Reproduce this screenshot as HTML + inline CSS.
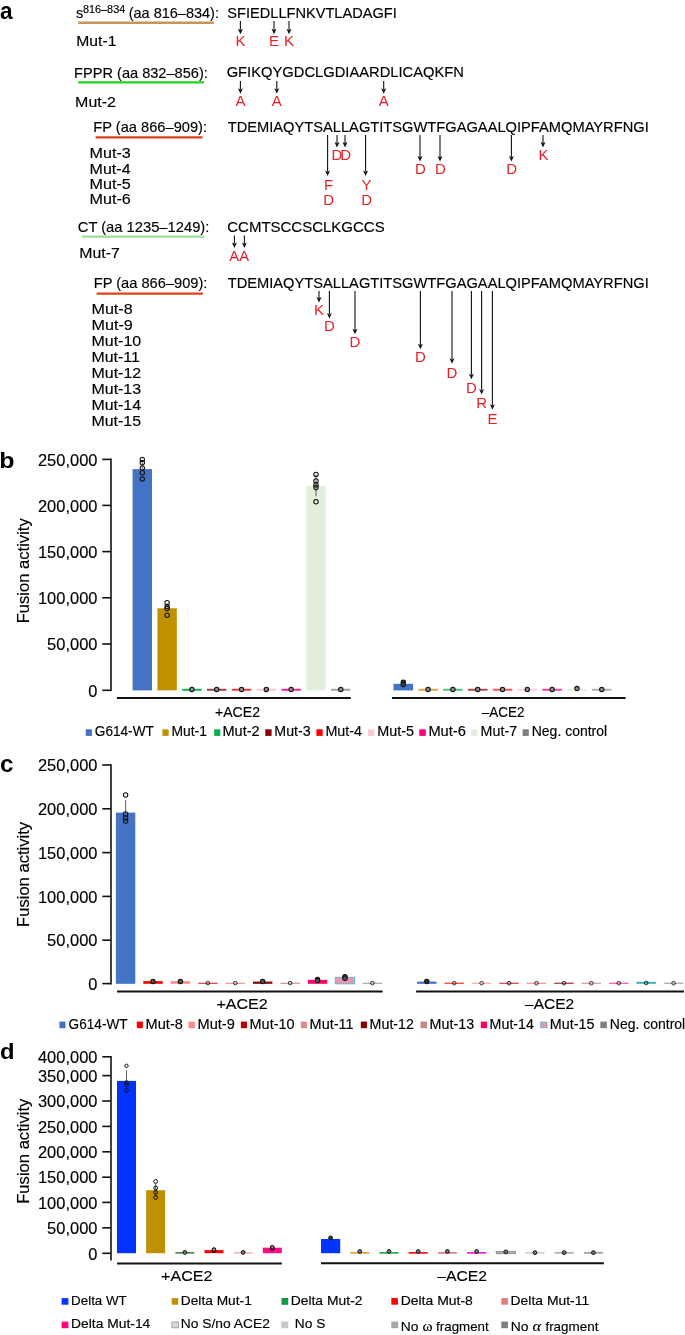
<!DOCTYPE html>
<html><head><meta charset="utf-8"><title>Figure</title>
<style>
html,body{margin:0;padding:0;background:#fff;}
body{width:685px;height:1335px;overflow:hidden;}
svg{display:block;font-family:"Liberation Sans", sans-serif;will-change:transform;}
</style></head>
<body>
<svg width="685" height="1335" viewBox="0 0 685 1335">
<rect x="0" y="0" width="685" height="1335" fill="#fff"/>
<text x="0.04" y="19.30" font-size="23" fill="#000" font-weight="bold" textLength="12.60" lengthAdjust="spacingAndGlyphs">a</text>
<text x="76.10" y="18.20" font-size="15" fill="#000" font-weight="normal" stroke="#000" stroke-width="0.15" textLength="7.22" lengthAdjust="spacingAndGlyphs">s</text>
<text x="83.03" y="12.80" font-size="10.5" fill="#000" font-weight="normal" stroke="#000" stroke-width="0.15" textLength="42.18" lengthAdjust="spacingAndGlyphs">816–834</text>
<text x="128.70" y="18.20" font-size="15" fill="#000" font-weight="normal" stroke="#000" stroke-width="0.15" textLength="90.22" lengthAdjust="spacingAndGlyphs">(aa 816–834):</text>
<line x1="78.20" y1="22.80" x2="213.90" y2="22.80" stroke="#c4965a" stroke-width="2.4"/>
<text x="227.34" y="17.60" font-size="15" fill="#000" font-weight="normal" stroke="#000" stroke-width="0.15" textLength="169.40" lengthAdjust="spacingAndGlyphs">SFIEDLLFNKVTLADAGFI</text>
<line x1="240.40" y1="21.10" x2="240.40" y2="29.70" stroke="#111" stroke-width="1.1"/>
<path d="M240.40,34.20 L237.90,28.70 L240.40,30.00 L242.90,28.70 Z" fill="#111"/>
<text x="240.4" y="46.0" font-size="15" fill="#ec1c24" text-anchor="middle" font-weight="normal">K</text>
<line x1="274.00" y1="21.10" x2="274.00" y2="29.70" stroke="#111" stroke-width="1.1"/>
<path d="M274.00,34.20 L271.50,28.70 L274.00,30.00 L276.50,28.70 Z" fill="#111"/>
<text x="274.0" y="46.0" font-size="15" fill="#ec1c24" text-anchor="middle" font-weight="normal">E</text>
<line x1="289.00" y1="21.10" x2="289.00" y2="29.70" stroke="#111" stroke-width="1.1"/>
<path d="M289.00,34.20 L286.50,28.70 L289.00,30.00 L291.50,28.70 Z" fill="#111"/>
<text x="289.0" y="46.0" font-size="15" fill="#ec1c24" text-anchor="middle" font-weight="normal">K</text>
<text x="76.32" y="46.40" font-size="15" fill="#000" font-weight="normal" stroke="#000" stroke-width="0.15" textLength="40.06" lengthAdjust="spacingAndGlyphs">Mut-1</text>
<text x="74.10" y="78.00" font-size="15" fill="#000" font-weight="normal" stroke="#000" stroke-width="0.15" textLength="133.72" lengthAdjust="spacingAndGlyphs">FPPR (aa 832–856):</text>
<line x1="78.30" y1="82.40" x2="204.00" y2="82.40" stroke="#1ed41e" stroke-width="2.4"/>
<text x="226.66" y="77.40" font-size="15" fill="#000" font-weight="normal" stroke="#000" stroke-width="0.15" textLength="237.33" lengthAdjust="spacingAndGlyphs">GFIKQYGDCLGDIAARDLICAQKFN</text>
<line x1="240.40" y1="80.90" x2="240.40" y2="89.20" stroke="#111" stroke-width="1.1"/>
<path d="M240.40,93.70 L237.90,88.20 L240.40,89.50 L242.90,88.20 Z" fill="#111"/>
<text x="240.4" y="106.4" font-size="15" fill="#ec1c24" text-anchor="middle" font-weight="normal">A</text>
<line x1="276.80" y1="80.90" x2="276.80" y2="89.20" stroke="#111" stroke-width="1.1"/>
<path d="M276.80,93.70 L274.30,88.20 L276.80,89.50 L279.30,88.20 Z" fill="#111"/>
<text x="276.8" y="106.4" font-size="15" fill="#ec1c24" text-anchor="middle" font-weight="normal">A</text>
<line x1="383.70" y1="80.90" x2="383.70" y2="89.20" stroke="#111" stroke-width="1.1"/>
<path d="M383.70,93.70 L381.20,88.20 L383.70,89.50 L386.20,88.20 Z" fill="#111"/>
<text x="383.7" y="106.4" font-size="15" fill="#ec1c24" text-anchor="middle" font-weight="normal">A</text>
<text x="75.09" y="106.60" font-size="15" fill="#000" font-weight="normal" stroke="#000" stroke-width="0.15" textLength="40.81" lengthAdjust="spacingAndGlyphs">Mut-2</text>
<text x="93.30" y="131.90" font-size="15" fill="#000" font-weight="normal" stroke="#000" stroke-width="0.15" textLength="113.73" lengthAdjust="spacingAndGlyphs">FP (aa 866–909):</text>
<line x1="95.60" y1="137.40" x2="202.60" y2="137.40" stroke="#e0401a" stroke-width="2.4"/>
<text x="227.68" y="131.60" font-size="15" fill="#000" font-weight="normal" stroke="#000" stroke-width="0.15" textLength="421.07" lengthAdjust="spacingAndGlyphs">TDEMIAQYTSALLAGTITSGWTFGAGAALQIPFAMQMAYRFNGI</text>
<text x="89.58" y="158.40" font-size="15" fill="#000" font-weight="normal" stroke="#000" stroke-width="0.15" textLength="41.24" lengthAdjust="spacingAndGlyphs">Mut-3</text>
<text x="89.59" y="173.60" font-size="15" fill="#000" font-weight="normal" stroke="#000" stroke-width="0.15" textLength="40.98" lengthAdjust="spacingAndGlyphs">Mut-4</text>
<text x="89.58" y="188.80" font-size="15" fill="#000" font-weight="normal" stroke="#000" stroke-width="0.15" textLength="41.20" lengthAdjust="spacingAndGlyphs">Mut-5</text>
<text x="89.58" y="204.00" font-size="15" fill="#000" font-weight="normal" stroke="#000" stroke-width="0.15" textLength="41.24" lengthAdjust="spacingAndGlyphs">Mut-6</text>
<line x1="327.60" y1="135.00" x2="327.60" y2="171.50" stroke="#111" stroke-width="1.1"/>
<path d="M327.60,176.00 L325.10,170.50 L327.60,171.80 L330.10,170.50 Z" fill="#111"/>
<line x1="337.00" y1="135.00" x2="337.00" y2="143.00" stroke="#111" stroke-width="1.1"/>
<path d="M337.00,147.50 L334.50,142.00 L337.00,143.30 L339.50,142.00 Z" fill="#111"/>
<line x1="345.00" y1="135.00" x2="345.00" y2="143.00" stroke="#111" stroke-width="1.1"/>
<path d="M345.00,147.50 L342.50,142.00 L345.00,143.30 L347.50,142.00 Z" fill="#111"/>
<line x1="365.60" y1="135.00" x2="365.60" y2="171.50" stroke="#111" stroke-width="1.1"/>
<path d="M365.60,176.00 L363.10,170.50 L365.60,171.80 L368.10,170.50 Z" fill="#111"/>
<line x1="420.00" y1="135.00" x2="420.00" y2="157.00" stroke="#111" stroke-width="1.1"/>
<path d="M420.00,161.50 L417.50,156.00 L420.00,157.30 L422.50,156.00 Z" fill="#111"/>
<line x1="440.00" y1="135.00" x2="440.00" y2="157.00" stroke="#111" stroke-width="1.1"/>
<path d="M440.00,161.50 L437.50,156.00 L440.00,157.30 L442.50,156.00 Z" fill="#111"/>
<line x1="511.40" y1="135.00" x2="511.40" y2="157.00" stroke="#111" stroke-width="1.1"/>
<path d="M511.40,161.50 L508.90,156.00 L511.40,157.30 L513.90,156.00 Z" fill="#111"/>
<line x1="543.00" y1="135.00" x2="543.00" y2="143.00" stroke="#111" stroke-width="1.1"/>
<path d="M543.00,147.50 L540.50,142.00 L543.00,143.30 L545.50,142.00 Z" fill="#111"/>
<text x="336.8" y="160.1" font-size="15" fill="#ec1c24" text-anchor="middle" font-weight="normal">D</text>
<text x="345.6" y="160.1" font-size="15" fill="#ec1c24" text-anchor="middle" font-weight="normal">D</text>
<text x="328.6" y="189.5" font-size="15" fill="#ec1c24" text-anchor="middle" font-weight="normal">F</text>
<text x="328.6" y="204.5" font-size="15" fill="#ec1c24" text-anchor="middle" font-weight="normal">D</text>
<text x="366.6" y="189.5" font-size="15" fill="#ec1c24" text-anchor="middle" font-weight="normal">Y</text>
<text x="366.6" y="204.5" font-size="15" fill="#ec1c24" text-anchor="middle" font-weight="normal">D</text>
<text x="420.4" y="174.1" font-size="15" fill="#ec1c24" text-anchor="middle" font-weight="normal">D</text>
<text x="440.4" y="174.1" font-size="15" fill="#ec1c24" text-anchor="middle" font-weight="normal">D</text>
<text x="511.6" y="174.1" font-size="15" fill="#ec1c24" text-anchor="middle" font-weight="normal">D</text>
<text x="543.4" y="159.7" font-size="15" fill="#ec1c24" text-anchor="middle" font-weight="normal">K</text>
<text x="77.75" y="231.80" font-size="15" fill="#000" font-weight="normal" stroke="#000" stroke-width="0.15" textLength="131.59" lengthAdjust="spacingAndGlyphs">CT (aa 1235–1249):</text>
<line x1="82.00" y1="236.60" x2="204.30" y2="236.60" stroke="#9edc9e" stroke-width="2.4"/>
<text x="227.24" y="231.60" font-size="15" fill="#000" font-weight="normal" stroke="#000" stroke-width="0.15" textLength="157.46" lengthAdjust="spacingAndGlyphs">CCMTSCCSCLKGCCS</text>
<line x1="234.40" y1="235.40" x2="234.40" y2="243.50" stroke="#111" stroke-width="1.1"/>
<path d="M234.40,248.00 L231.90,242.50 L234.40,243.80 L236.90,242.50 Z" fill="#111"/>
<line x1="244.40" y1="235.40" x2="244.40" y2="243.50" stroke="#111" stroke-width="1.1"/>
<path d="M244.40,248.00 L241.90,242.50 L244.40,243.80 L246.90,242.50 Z" fill="#111"/>
<text x="229.37" y="260.60" font-size="15" fill="#ec1c24" font-weight="normal" textLength="19.66" lengthAdjust="spacingAndGlyphs">AA</text>
<text x="79.30" y="257.80" font-size="15" fill="#000" font-weight="normal" stroke="#000" stroke-width="0.15" textLength="40.60" lengthAdjust="spacingAndGlyphs">Mut-7</text>
<text x="93.70" y="288.00" font-size="15" fill="#000" font-weight="normal" stroke="#000" stroke-width="0.15" textLength="113.73" lengthAdjust="spacingAndGlyphs">FP (aa 866–909):</text>
<line x1="96.60" y1="293.60" x2="202.90" y2="293.60" stroke="#e0401a" stroke-width="2.4"/>
<text x="227.68" y="287.80" font-size="15" fill="#000" font-weight="normal" stroke="#000" stroke-width="0.15" textLength="421.07" lengthAdjust="spacingAndGlyphs">TDEMIAQYTSALLAGTITSGWTFGAGAALQIPFAMQMAYRFNGI</text>
<text x="91.48" y="314.00" font-size="15" fill="#000" font-weight="normal" stroke="#000" stroke-width="0.15" textLength="41.22" lengthAdjust="spacingAndGlyphs">Mut-8</text>
<text x="91.48" y="330.00" font-size="15" fill="#000" font-weight="normal" stroke="#000" stroke-width="0.15" textLength="41.29" lengthAdjust="spacingAndGlyphs">Mut-9</text>
<text x="91.49" y="346.00" font-size="15" fill="#000" font-weight="normal" stroke="#000" stroke-width="0.15" textLength="49.74" lengthAdjust="spacingAndGlyphs">Mut-10</text>
<text x="91.50" y="362.00" font-size="15" fill="#000" font-weight="normal" stroke="#000" stroke-width="0.15" textLength="48.28" lengthAdjust="spacingAndGlyphs">Mut-11</text>
<text x="91.49" y="378.00" font-size="15" fill="#000" font-weight="normal" stroke="#000" stroke-width="0.15" textLength="49.71" lengthAdjust="spacingAndGlyphs">Mut-12</text>
<text x="91.49" y="394.00" font-size="15" fill="#000" font-weight="normal" stroke="#000" stroke-width="0.15" textLength="49.61" lengthAdjust="spacingAndGlyphs">Mut-13</text>
<text x="91.49" y="410.00" font-size="15" fill="#000" font-weight="normal" stroke="#000" stroke-width="0.15" textLength="49.57" lengthAdjust="spacingAndGlyphs">Mut-14</text>
<text x="91.49" y="426.00" font-size="15" fill="#000" font-weight="normal" stroke="#000" stroke-width="0.15" textLength="49.58" lengthAdjust="spacingAndGlyphs">Mut-15</text>
<line x1="319.00" y1="291.00" x2="319.00" y2="298.00" stroke="#111" stroke-width="1.1"/>
<path d="M319.00,302.50 L316.50,297.00 L319.00,298.30 L321.50,297.00 Z" fill="#111"/>
<text x="319.0" y="314.5" font-size="15" fill="#ec1c24" text-anchor="middle" font-weight="normal">K</text>
<line x1="329.40" y1="291.00" x2="329.40" y2="314.10" stroke="#111" stroke-width="1.1"/>
<path d="M329.40,318.60 L326.90,313.10 L329.40,314.40 L331.90,313.10 Z" fill="#111"/>
<text x="329.4" y="331.1" font-size="15" fill="#ec1c24" text-anchor="middle" font-weight="normal">D</text>
<line x1="355.00" y1="291.00" x2="355.00" y2="329.70" stroke="#111" stroke-width="1.1"/>
<path d="M355.00,334.20 L352.50,328.70 L355.00,330.00 L357.50,328.70 Z" fill="#111"/>
<text x="355.0" y="346.9" font-size="15" fill="#ec1c24" text-anchor="middle" font-weight="normal">D</text>
<line x1="420.40" y1="291.00" x2="420.40" y2="344.70" stroke="#111" stroke-width="1.1"/>
<path d="M420.40,349.20 L417.90,343.70 L420.40,345.00 L422.90,343.70 Z" fill="#111"/>
<text x="420.4" y="362.1" font-size="15" fill="#ec1c24" text-anchor="middle" font-weight="normal">D</text>
<line x1="452.00" y1="291.00" x2="452.00" y2="359.30" stroke="#111" stroke-width="1.1"/>
<path d="M452.00,363.80 L449.50,358.30 L452.00,359.60 L454.50,358.30 Z" fill="#111"/>
<text x="452.0" y="377.5" font-size="15" fill="#ec1c24" text-anchor="middle" font-weight="normal">D</text>
<line x1="471.40" y1="291.00" x2="471.40" y2="374.70" stroke="#111" stroke-width="1.1"/>
<path d="M471.40,379.20 L468.90,373.70 L471.40,375.00 L473.90,373.70 Z" fill="#111"/>
<text x="471.4" y="392.5" font-size="15" fill="#ec1c24" text-anchor="middle" font-weight="normal">D</text>
<line x1="481.60" y1="291.00" x2="481.60" y2="390.10" stroke="#111" stroke-width="1.1"/>
<path d="M481.60,394.60 L479.10,389.10 L481.60,390.40 L484.10,389.10 Z" fill="#111"/>
<text x="481.6" y="408.1" font-size="15" fill="#ec1c24" text-anchor="middle" font-weight="normal">R</text>
<line x1="492.40" y1="291.00" x2="492.40" y2="405.30" stroke="#111" stroke-width="1.1"/>
<path d="M492.40,409.80 L489.90,404.30 L492.40,405.60 L494.90,404.30 Z" fill="#111"/>
<text x="492.4" y="423.5" font-size="15" fill="#ec1c24" text-anchor="middle" font-weight="normal">E</text>
<text x="-0.65" y="468.00" font-size="22" fill="#000" font-weight="bold" textLength="15.27" lengthAdjust="spacingAndGlyphs">b</text>
<line x1="111.00" y1="458.60" x2="111.00" y2="691.10" stroke="#111" stroke-width="1.6"/>
<line x1="102.30" y1="459.40" x2="111.00" y2="459.40" stroke="#111" stroke-width="1.6"/>
<text x="37.98" y="465.60" font-size="16" fill="#000" font-weight="normal" stroke="#000" stroke-width="0.15" textLength="59.46" lengthAdjust="spacingAndGlyphs">250,000</text>
<line x1="102.30" y1="505.40" x2="111.00" y2="505.40" stroke="#111" stroke-width="1.6"/>
<text x="37.98" y="511.60" font-size="16" fill="#000" font-weight="normal" stroke="#000" stroke-width="0.15" textLength="59.46" lengthAdjust="spacingAndGlyphs">200,000</text>
<line x1="102.30" y1="551.60" x2="111.00" y2="551.60" stroke="#111" stroke-width="1.6"/>
<text x="37.98" y="557.80" font-size="16" fill="#000" font-weight="normal" stroke="#000" stroke-width="0.15" textLength="59.46" lengthAdjust="spacingAndGlyphs">150,000</text>
<line x1="102.30" y1="597.80" x2="111.00" y2="597.80" stroke="#111" stroke-width="1.6"/>
<text x="37.98" y="604.00" font-size="16" fill="#000" font-weight="normal" stroke="#000" stroke-width="0.15" textLength="59.46" lengthAdjust="spacingAndGlyphs">100,000</text>
<line x1="102.30" y1="644.00" x2="111.00" y2="644.00" stroke="#111" stroke-width="1.6"/>
<text x="47.14" y="650.20" font-size="16" fill="#000" font-weight="normal" stroke="#000" stroke-width="0.15" textLength="50.31" lengthAdjust="spacingAndGlyphs">50,000</text>
<line x1="102.30" y1="690.30" x2="111.00" y2="690.30" stroke="#111" stroke-width="1.6"/>
<text x="88.30" y="696.50" font-size="16" fill="#000" font-weight="normal" stroke="#000" stroke-width="0.15" textLength="9.15" lengthAdjust="spacingAndGlyphs">0</text>
<text transform="translate(28.9,623.36) rotate(-90)" font-size="16.5" fill="#000" stroke="#000" stroke-width="0.15" textLength="105.10" lengthAdjust="spacingAndGlyphs">Fusion activity</text>
<rect x="132.60" y="469.10" width="19.40" height="221.30" fill="#4472c4"/>
<rect x="157.41" y="608.30" width="19.40" height="82.10" fill="#bf9000"/>
<rect x="182.22" y="688.80" width="19.40" height="1.90" fill="#00b050"/>
<rect x="207.03" y="688.80" width="19.40" height="1.90" fill="#a03838"/>
<rect x="231.84" y="688.80" width="19.40" height="1.90" fill="#ff2a2a"/>
<rect x="256.65" y="688.80" width="19.40" height="1.90" fill="#ffc7d4"/>
<rect x="281.46" y="688.80" width="19.40" height="1.90" fill="#ff1a8c"/>
<rect x="306.27" y="485.90" width="19.40" height="204.50" fill="#e2efda"/>
<rect x="331.08" y="688.80" width="19.40" height="1.90" fill="#a0a0a0"/>
<line x1="142.30" y1="460.50" x2="142.30" y2="469.50" stroke="#333" stroke-width="0.8"/>
<circle cx="142.30" cy="459.40" r="2.2" fill="none" stroke="#111" stroke-width="1.05"/>
<circle cx="142.30" cy="462.70" r="2.2" fill="none" stroke="#111" stroke-width="1.05"/>
<circle cx="142.30" cy="468.00" r="2.2" fill="none" stroke="#111" stroke-width="1.05"/>
<circle cx="142.30" cy="472.80" r="2.2" fill="none" stroke="#111" stroke-width="1.05"/>
<circle cx="142.30" cy="478.90" r="2.2" fill="none" stroke="#111" stroke-width="1.05"/>
<line x1="167.11" y1="603.50" x2="167.11" y2="609.00" stroke="#333" stroke-width="0.8"/>
<circle cx="167.11" cy="602.70" r="2.2" fill="none" stroke="#111" stroke-width="1.05"/>
<circle cx="167.11" cy="606.60" r="2.2" fill="none" stroke="#111" stroke-width="1.05"/>
<circle cx="167.11" cy="608.40" r="2.2" fill="none" stroke="#111" stroke-width="1.05"/>
<circle cx="167.11" cy="615.20" r="2.2" fill="none" stroke="#111" stroke-width="1.05"/>
<circle cx="191.92" cy="689.40" r="2.2" fill="#8a8a8a" stroke="#111" stroke-width="1.05"/>
<circle cx="216.73" cy="689.40" r="2.2" fill="#8a8a8a" stroke="#111" stroke-width="1.05"/>
<circle cx="241.54" cy="689.40" r="2.2" fill="#8a8a8a" stroke="#111" stroke-width="1.05"/>
<circle cx="266.35" cy="689.40" r="2.2" fill="#8a8a8a" stroke="#111" stroke-width="1.05"/>
<circle cx="291.16" cy="689.40" r="2.2" fill="#8a8a8a" stroke="#111" stroke-width="1.05"/>
<line x1="315.97" y1="474.50" x2="315.97" y2="496.30" stroke="#333" stroke-width="0.8"/>
<circle cx="315.97" cy="474.40" r="2.2" fill="none" stroke="#111" stroke-width="1.05"/>
<circle cx="315.97" cy="480.90" r="2.2" fill="none" stroke="#111" stroke-width="1.05"/>
<circle cx="315.97" cy="485.00" r="2.2" fill="none" stroke="#111" stroke-width="1.05"/>
<circle cx="315.97" cy="487.50" r="2.2" fill="none" stroke="#111" stroke-width="1.05"/>
<circle cx="315.97" cy="501.80" r="2.2" fill="none" stroke="#111" stroke-width="1.05"/>
<circle cx="340.78" cy="689.40" r="2.2" fill="#8a8a8a" stroke="#111" stroke-width="1.05"/>
<rect x="393.50" y="683.80" width="19.60" height="6.60" fill="#4472c4"/>
<rect x="418.31" y="688.80" width="19.60" height="1.90" fill="#d9ac3a"/>
<rect x="443.12" y="688.80" width="19.60" height="1.90" fill="#3cc878"/>
<rect x="467.93" y="688.80" width="19.60" height="1.90" fill="#a84848"/>
<rect x="492.74" y="688.80" width="19.60" height="1.90" fill="#ff5050"/>
<rect x="517.55" y="688.80" width="19.60" height="1.90" fill="#ffd0dc"/>
<rect x="542.36" y="688.80" width="19.60" height="1.90" fill="#ff3399"/>
<rect x="567.17" y="688.80" width="19.60" height="1.90" fill="#e2efda"/>
<rect x="591.98" y="688.80" width="19.60" height="1.90" fill="#b0b0b0"/>
<line x1="403.30" y1="681.00" x2="403.30" y2="686.00" stroke="#333" stroke-width="0.8"/>
<circle cx="403.30" cy="682.30" r="2.2" fill="#444" stroke="#111" stroke-width="1.05"/>
<circle cx="403.30" cy="684.60" r="2.2" fill="#444" stroke="#111" stroke-width="1.05"/>
<circle cx="428.11" cy="689.40" r="2.2" fill="#8a8a8a" stroke="#111" stroke-width="1.05"/>
<circle cx="452.92" cy="689.40" r="2.2" fill="#8a8a8a" stroke="#111" stroke-width="1.05"/>
<circle cx="477.73" cy="689.40" r="2.2" fill="#8a8a8a" stroke="#111" stroke-width="1.05"/>
<circle cx="502.54" cy="689.40" r="2.2" fill="#8a8a8a" stroke="#111" stroke-width="1.05"/>
<circle cx="527.35" cy="689.40" r="2.2" fill="#8a8a8a" stroke="#111" stroke-width="1.05"/>
<circle cx="552.16" cy="689.40" r="2.2" fill="#8a8a8a" stroke="#111" stroke-width="1.05"/>
<circle cx="576.97" cy="688.60" r="2.2" fill="#8a8a8a" stroke="#111" stroke-width="1.05"/>
<circle cx="601.78" cy="689.40" r="2.2" fill="#8a8a8a" stroke="#111" stroke-width="1.05"/>
<line x1="116.90" y1="698.00" x2="350.80" y2="698.00" stroke="#111" stroke-width="2.0"/>
<line x1="392.00" y1="698.00" x2="625.60" y2="698.00" stroke="#111" stroke-width="2.0"/>
<text x="215.01" y="716.60" font-size="14.4" fill="#000" font-weight="normal" stroke="#000" stroke-width="0.15" textLength="45.00" lengthAdjust="spacingAndGlyphs">+ACE2</text>
<text x="481.80" y="716.50" font-size="14.4" fill="#000" font-weight="normal" stroke="#000" stroke-width="0.15" textLength="42.68" lengthAdjust="spacingAndGlyphs">–ACE2</text>
<rect x="85.75" y="729.30" width="6.15" height="6.60" fill="#4472c4"/>
<text x="94.82" y="736.10" font-size="13.8" fill="#000" font-weight="normal" stroke="#000" stroke-width="0.15" textLength="58.99" lengthAdjust="spacingAndGlyphs">G614-WT</text>
<rect x="162.40" y="729.30" width="6.30" height="6.60" fill="#bf9000"/>
<text x="171.46" y="736.10" font-size="13.8" fill="#000" font-weight="normal" stroke="#000" stroke-width="0.15" textLength="35.42" lengthAdjust="spacingAndGlyphs">Mut-1</text>
<rect x="214.20" y="729.30" width="6.10" height="6.60" fill="#00b050"/>
<text x="222.51" y="736.10" font-size="13.8" fill="#000" font-weight="normal" stroke="#000" stroke-width="0.15" textLength="37.22" lengthAdjust="spacingAndGlyphs">Mut-2</text>
<rect x="265.30" y="729.30" width="6.30" height="6.60" fill="#8b0000"/>
<text x="274.33" y="736.10" font-size="13.8" fill="#000" font-weight="normal" stroke="#000" stroke-width="0.15" textLength="36.40" lengthAdjust="spacingAndGlyphs">Mut-3</text>
<rect x="316.40" y="729.30" width="6.30" height="6.60" fill="#ff0000"/>
<text x="325.42" y="736.10" font-size="13.8" fill="#000" font-weight="normal" stroke="#000" stroke-width="0.15" textLength="36.70" lengthAdjust="spacingAndGlyphs">Mut-4</text>
<rect x="368.00" y="729.30" width="6.40" height="6.60" fill="#ffc7ce"/>
<text x="377.32" y="736.10" font-size="13.8" fill="#000" font-weight="normal" stroke="#000" stroke-width="0.15" textLength="36.79" lengthAdjust="spacingAndGlyphs">Mut-5</text>
<rect x="419.30" y="729.30" width="6.50" height="6.60" fill="#ff0080"/>
<text x="428.40" y="736.10" font-size="13.8" fill="#000" font-weight="normal" stroke="#000" stroke-width="0.15" textLength="37.55" lengthAdjust="spacingAndGlyphs">Mut-6</text>
<rect x="471.20" y="729.30" width="6.20" height="6.60" fill="#e2efda"/>
<text x="480.63" y="736.10" font-size="13.8" fill="#000" font-weight="normal" stroke="#000" stroke-width="0.15" textLength="36.49" lengthAdjust="spacingAndGlyphs">Mut-7</text>
<rect x="522.60" y="729.30" width="6.20" height="6.60" fill="#808080"/>
<text x="531.75" y="736.10" font-size="13.8" fill="#000" font-weight="normal" stroke="#000" stroke-width="0.15" textLength="75.39" lengthAdjust="spacingAndGlyphs">Neg. control</text>
<text x="-0.04" y="771.90" font-size="23" fill="#000" font-weight="bold" textLength="13.45" lengthAdjust="spacingAndGlyphs">c</text>
<line x1="111.00" y1="764.20" x2="111.00" y2="984.40" stroke="#111" stroke-width="1.6"/>
<line x1="102.30" y1="765.00" x2="111.00" y2="765.00" stroke="#111" stroke-width="1.6"/>
<text x="37.98" y="771.20" font-size="16" fill="#000" font-weight="normal" stroke="#000" stroke-width="0.15" textLength="59.46" lengthAdjust="spacingAndGlyphs">250,000</text>
<line x1="102.30" y1="808.80" x2="111.00" y2="808.80" stroke="#111" stroke-width="1.6"/>
<text x="37.98" y="815.00" font-size="16" fill="#000" font-weight="normal" stroke="#000" stroke-width="0.15" textLength="59.46" lengthAdjust="spacingAndGlyphs">200,000</text>
<line x1="102.30" y1="852.60" x2="111.00" y2="852.60" stroke="#111" stroke-width="1.6"/>
<text x="37.98" y="858.80" font-size="16" fill="#000" font-weight="normal" stroke="#000" stroke-width="0.15" textLength="59.46" lengthAdjust="spacingAndGlyphs">150,000</text>
<line x1="102.30" y1="896.40" x2="111.00" y2="896.40" stroke="#111" stroke-width="1.6"/>
<text x="37.98" y="902.60" font-size="16" fill="#000" font-weight="normal" stroke="#000" stroke-width="0.15" textLength="59.46" lengthAdjust="spacingAndGlyphs">100,000</text>
<line x1="102.30" y1="940.20" x2="111.00" y2="940.20" stroke="#111" stroke-width="1.6"/>
<text x="47.14" y="946.40" font-size="16" fill="#000" font-weight="normal" stroke="#000" stroke-width="0.15" textLength="50.31" lengthAdjust="spacingAndGlyphs">50,000</text>
<line x1="102.30" y1="983.60" x2="111.00" y2="983.60" stroke="#111" stroke-width="1.6"/>
<text x="88.30" y="989.80" font-size="16" fill="#000" font-weight="normal" stroke="#000" stroke-width="0.15" textLength="9.15" lengthAdjust="spacingAndGlyphs">0</text>
<text transform="translate(28.9,926.96) rotate(-90)" font-size="16.5" fill="#000" stroke="#000" stroke-width="0.15" textLength="105.10" lengthAdjust="spacingAndGlyphs">Fusion activity</text>
<rect x="115.90" y="812.60" width="19.40" height="171.20" fill="#4472c4"/>
<rect x="143.32" y="981.10" width="19.40" height="2.70" fill="#ff0000"/>
<rect x="170.74" y="981.10" width="19.40" height="2.70" fill="#ff8c8c"/>
<rect x="198.16" y="982.70" width="19.40" height="1.10" fill="#c83030"/>
<rect x="225.58" y="982.70" width="19.40" height="1.10" fill="#e08a8a"/>
<rect x="253.00" y="981.60" width="19.40" height="2.20" fill="#8b0000"/>
<rect x="280.42" y="982.70" width="19.40" height="1.10" fill="#cc8888"/>
<rect x="307.84" y="979.90" width="19.40" height="3.90" fill="#ff0066"/>
<rect x="335.26" y="977.30" width="19.40" height="6.50" fill="#f48fb8" stroke="#5bc0c8" stroke-width="1.0"/>
<rect x="362.68" y="982.70" width="19.40" height="1.10" fill="#a0a0a0"/>
<line x1="125.60" y1="800.00" x2="125.60" y2="813.50" stroke="#333" stroke-width="0.8"/>
<circle cx="125.60" cy="795.00" r="2.2" fill="none" stroke="#111" stroke-width="1.05"/>
<circle cx="125.60" cy="814.00" r="2.2" fill="none" stroke="#111" stroke-width="1.05"/>
<circle cx="125.60" cy="818.00" r="2.2" fill="none" stroke="#111" stroke-width="1.05"/>
<circle cx="125.60" cy="821.00" r="2.2" fill="none" stroke="#111" stroke-width="1.05"/>
<circle cx="153.02" cy="981.40" r="2.2" fill="#555" stroke="#111" stroke-width="1.05"/>
<circle cx="180.44" cy="981.40" r="2.2" fill="#555" stroke="#111" stroke-width="1.05"/>
<circle cx="207.86" cy="983.10" r="1.8" fill="none" stroke="#111" stroke-width="0.85"/>
<circle cx="235.28" cy="983.10" r="1.8" fill="none" stroke="#111" stroke-width="0.85"/>
<circle cx="262.70" cy="981.40" r="2.2" fill="#555" stroke="#111" stroke-width="1.05"/>
<circle cx="290.12" cy="983.10" r="1.8" fill="none" stroke="#111" stroke-width="0.85"/>
<circle cx="317.54" cy="979.40" r="2.2" fill="#555" stroke="#111" stroke-width="1.05"/>
<circle cx="317.54" cy="980.60" r="2.2" fill="#555" stroke="#111" stroke-width="1.05"/>
<circle cx="344.96" cy="976.80" r="2.2" fill="#555" stroke="#111" stroke-width="1.05"/>
<circle cx="344.96" cy="978.20" r="2.2" fill="#555" stroke="#111" stroke-width="1.05"/>
<circle cx="372.38" cy="983.10" r="1.8" fill="none" stroke="#111" stroke-width="0.85"/>
<rect x="417.10" y="981.60" width="19.40" height="2.20" fill="#4472c4"/>
<rect x="444.52" y="982.70" width="19.40" height="1.10" fill="#ff2020"/>
<rect x="471.94" y="982.70" width="19.40" height="1.10" fill="#ffa0a0"/>
<rect x="499.36" y="982.70" width="19.40" height="1.10" fill="#c83030"/>
<rect x="526.78" y="982.70" width="19.40" height="1.10" fill="#e08a8a"/>
<rect x="554.20" y="982.70" width="19.40" height="1.10" fill="#a02020"/>
<rect x="581.62" y="982.70" width="19.40" height="1.10" fill="#d09090"/>
<rect x="609.04" y="982.70" width="19.40" height="1.10" fill="#ff40a0"/>
<rect x="636.46" y="981.80" width="19.40" height="2.00" fill="#38b0b4"/>
<rect x="663.88" y="982.70" width="19.40" height="1.10" fill="#a0a0a0"/>
<circle cx="426.80" cy="981.60" r="2.2" fill="#333" stroke="#111" stroke-width="1.05"/>
<circle cx="454.22" cy="983.20" r="1.8" fill="none" stroke="#111" stroke-width="0.85"/>
<circle cx="481.64" cy="983.20" r="1.8" fill="none" stroke="#111" stroke-width="0.85"/>
<circle cx="509.06" cy="983.20" r="1.8" fill="none" stroke="#111" stroke-width="0.85"/>
<circle cx="536.48" cy="983.20" r="1.8" fill="none" stroke="#111" stroke-width="0.85"/>
<circle cx="563.90" cy="983.20" r="1.8" fill="none" stroke="#111" stroke-width="0.85"/>
<circle cx="591.32" cy="983.20" r="1.8" fill="none" stroke="#111" stroke-width="0.85"/>
<circle cx="618.74" cy="983.20" r="1.8" fill="none" stroke="#111" stroke-width="0.85"/>
<circle cx="646.16" cy="983.00" r="1.8" fill="none" stroke="#111" stroke-width="0.85"/>
<circle cx="673.58" cy="983.20" r="1.8" fill="none" stroke="#111" stroke-width="0.85"/>
<line x1="117.00" y1="991.40" x2="382.60" y2="991.40" stroke="#111" stroke-width="2.0"/>
<line x1="416.10" y1="991.40" x2="684.00" y2="991.40" stroke="#111" stroke-width="2.0"/>
<text x="216.41" y="1009.00" font-size="15.5" fill="#000" font-weight="normal" stroke="#000" stroke-width="0.15" textLength="51.29" lengthAdjust="spacingAndGlyphs">+ACE2</text>
<text x="525.10" y="1009.00" font-size="15.5" fill="#000" font-weight="normal" stroke="#000" stroke-width="0.15" textLength="48.98" lengthAdjust="spacingAndGlyphs">–ACE2</text>
<rect x="59.40" y="1021.60" width="6.10" height="6.60" fill="#4472c4"/>
<text x="68.62" y="1028.60" font-size="14.2" fill="#000" font-weight="normal" stroke="#000" stroke-width="0.15" textLength="58.99" lengthAdjust="spacingAndGlyphs">G614-WT</text>
<rect x="136.80" y="1021.60" width="6.10" height="6.60" fill="#ff0000"/>
<text x="145.61" y="1028.60" font-size="14.2" fill="#000" font-weight="normal" stroke="#000" stroke-width="0.15" textLength="37.22" lengthAdjust="spacingAndGlyphs">Mut-8</text>
<rect x="188.50" y="1021.60" width="6.40" height="6.60" fill="#ff8c8c"/>
<text x="197.50" y="1028.60" font-size="14.2" fill="#000" font-weight="normal" stroke="#000" stroke-width="0.15" textLength="37.28" lengthAdjust="spacingAndGlyphs">Mut-9</text>
<rect x="240.90" y="1021.60" width="6.10" height="6.60" fill="#c00000"/>
<text x="249.62" y="1028.60" font-size="14.2" fill="#000" font-weight="normal" stroke="#000" stroke-width="0.15" textLength="44.85" lengthAdjust="spacingAndGlyphs">Mut-10</text>
<rect x="300.80" y="1021.60" width="6.10" height="6.60" fill="#e08a8a"/>
<text x="309.61" y="1028.60" font-size="14.2" fill="#000" font-weight="normal" stroke="#000" stroke-width="0.15" textLength="44.00" lengthAdjust="spacingAndGlyphs">Mut-11</text>
<rect x="360.80" y="1021.60" width="6.20" height="6.60" fill="#8b0000"/>
<text x="369.63" y="1028.60" font-size="14.2" fill="#000" font-weight="normal" stroke="#000" stroke-width="0.15" textLength="44.28" lengthAdjust="spacingAndGlyphs">Mut-12</text>
<rect x="420.50" y="1021.60" width="6.50" height="6.60" fill="#cc8888"/>
<text x="429.63" y="1028.60" font-size="14.2" fill="#000" font-weight="normal" stroke="#000" stroke-width="0.15" textLength="44.51" lengthAdjust="spacingAndGlyphs">Mut-13</text>
<rect x="480.80" y="1021.60" width="6.20" height="6.60" fill="#ff0066"/>
<text x="489.63" y="1028.60" font-size="14.2" fill="#000" font-weight="normal" stroke="#000" stroke-width="0.15" textLength="44.28" lengthAdjust="spacingAndGlyphs">Mut-14</text>
<rect x="540.65" y="1022.05" width="6.40" height="5.70" fill="#f48fb8" stroke="#5bc0c8" stroke-width="0.9"/>
<text x="549.83" y="1028.60" font-size="14.2" fill="#000" font-weight="normal" stroke="#000" stroke-width="0.15" textLength="44.58" lengthAdjust="spacingAndGlyphs">Mut-15</text>
<rect x="600.30" y="1021.60" width="6.60" height="6.60" fill="#808080"/>
<text x="609.85" y="1028.60" font-size="14.2" fill="#000" font-weight="normal" stroke="#000" stroke-width="0.15" textLength="75.39" lengthAdjust="spacingAndGlyphs">Neg. control</text>
<text x="-0.08" y="1058.80" font-size="22" fill="#000" font-weight="bold" textLength="14.54" lengthAdjust="spacingAndGlyphs">d</text>
<line x1="111.00" y1="1056.00" x2="111.00" y2="1260.60" stroke="#111" stroke-width="1.6"/>
<line x1="102.30" y1="1056.80" x2="111.00" y2="1056.80" stroke="#111" stroke-width="1.6"/>
<text x="37.98" y="1063.00" font-size="16" fill="#000" font-weight="normal" stroke="#000" stroke-width="0.15" textLength="59.46" lengthAdjust="spacingAndGlyphs">400,000</text>
<line x1="102.30" y1="1075.60" x2="111.00" y2="1075.60" stroke="#111" stroke-width="1.6"/>
<text x="37.98" y="1081.80" font-size="16" fill="#000" font-weight="normal" stroke="#000" stroke-width="0.15" textLength="59.46" lengthAdjust="spacingAndGlyphs">350,000</text>
<line x1="102.30" y1="1101.00" x2="111.00" y2="1101.00" stroke="#111" stroke-width="1.6"/>
<text x="37.98" y="1107.20" font-size="16" fill="#000" font-weight="normal" stroke="#000" stroke-width="0.15" textLength="59.46" lengthAdjust="spacingAndGlyphs">300,000</text>
<line x1="102.30" y1="1126.40" x2="111.00" y2="1126.40" stroke="#111" stroke-width="1.6"/>
<text x="37.98" y="1132.60" font-size="16" fill="#000" font-weight="normal" stroke="#000" stroke-width="0.15" textLength="59.46" lengthAdjust="spacingAndGlyphs">250,000</text>
<line x1="102.30" y1="1151.80" x2="111.00" y2="1151.80" stroke="#111" stroke-width="1.6"/>
<text x="37.98" y="1158.00" font-size="16" fill="#000" font-weight="normal" stroke="#000" stroke-width="0.15" textLength="59.46" lengthAdjust="spacingAndGlyphs">200,000</text>
<line x1="102.30" y1="1177.20" x2="111.00" y2="1177.20" stroke="#111" stroke-width="1.6"/>
<text x="37.98" y="1183.40" font-size="16" fill="#000" font-weight="normal" stroke="#000" stroke-width="0.15" textLength="59.46" lengthAdjust="spacingAndGlyphs">150,000</text>
<line x1="102.30" y1="1202.40" x2="111.00" y2="1202.40" stroke="#111" stroke-width="1.6"/>
<text x="37.98" y="1208.60" font-size="16" fill="#000" font-weight="normal" stroke="#000" stroke-width="0.15" textLength="59.46" lengthAdjust="spacingAndGlyphs">100,000</text>
<line x1="102.30" y1="1227.80" x2="111.00" y2="1227.80" stroke="#111" stroke-width="1.6"/>
<text x="47.14" y="1234.00" font-size="16" fill="#000" font-weight="normal" stroke="#000" stroke-width="0.15" textLength="50.31" lengthAdjust="spacingAndGlyphs">50,000</text>
<line x1="102.30" y1="1253.30" x2="111.00" y2="1253.30" stroke="#111" stroke-width="1.6"/>
<text x="88.30" y="1259.50" font-size="16" fill="#000" font-weight="normal" stroke="#000" stroke-width="0.15" textLength="9.15" lengthAdjust="spacingAndGlyphs">0</text>
<text transform="translate(28.9,1203.76) rotate(-90)" font-size="16.5" fill="#000" stroke="#000" stroke-width="0.15" textLength="105.10" lengthAdjust="spacingAndGlyphs">Fusion activity</text>
<rect x="117.00" y="1080.90" width="19.00" height="172.30" fill="#0433ff"/>
<rect x="146.16" y="1190.20" width="19.00" height="63.00" fill="#bf9000"/>
<rect x="175.32" y="1252.00" width="19.00" height="1.70" fill="#5a805a"/>
<rect x="204.48" y="1250.10" width="19.00" height="3.10" fill="#ff0000"/>
<rect x="233.64" y="1252.00" width="19.00" height="1.70" fill="#f4b8b8"/>
<rect x="262.80" y="1247.70" width="19.00" height="5.50" fill="#ff0a80"/>
<line x1="126.50" y1="1070.40" x2="126.50" y2="1081.50" stroke="#333" stroke-width="0.8"/>
<circle cx="126.50" cy="1082.70" r="1.9" fill="none" stroke="#111" stroke-width="1.0"/>
<circle cx="126.50" cy="1084.90" r="1.9" fill="none" stroke="#111" stroke-width="1.0"/>
<circle cx="126.50" cy="1090.50" r="1.9" fill="none" stroke="#111" stroke-width="1.0"/>
<line x1="155.66" y1="1183.50" x2="155.66" y2="1197.00" stroke="#333" stroke-width="0.8"/>
<circle cx="155.66" cy="1181.50" r="1.9" fill="none" stroke="#111" stroke-width="1.0"/>
<circle cx="155.66" cy="1188.00" r="1.9" fill="none" stroke="#111" stroke-width="1.0"/>
<circle cx="155.66" cy="1192.40" r="1.9" fill="none" stroke="#111" stroke-width="1.0"/>
<circle cx="155.66" cy="1197.50" r="1.9" fill="none" stroke="#111" stroke-width="1.0"/>
<circle cx="184.82" cy="1252.40" r="1.9" fill="#777" stroke="#111" stroke-width="1.0"/>
<circle cx="213.98" cy="1249.60" r="1.9" fill="none" stroke="#111" stroke-width="1.0"/>
<circle cx="213.98" cy="1250.60" r="1.9" fill="none" stroke="#111" stroke-width="1.0"/>
<circle cx="243.14" cy="1252.40" r="1.9" fill="#777" stroke="#111" stroke-width="1.0"/>
<circle cx="272.30" cy="1247.20" r="1.9" fill="none" stroke="#111" stroke-width="1.0"/>
<circle cx="272.30" cy="1248.60" r="1.9" fill="none" stroke="#111" stroke-width="1.0"/>
<circle cx="126.50" cy="1065.80" r="1.7" fill="none" stroke="#111" stroke-width="1.0"/>
<rect x="321.00" y="1239.00" width="19.20" height="14.20" fill="#0433ff"/>
<rect x="350.20" y="1252.00" width="19.20" height="1.70" fill="#d8a830"/>
<rect x="379.40" y="1252.00" width="19.20" height="1.70" fill="#20b050"/>
<rect x="408.60" y="1252.00" width="19.20" height="1.70" fill="#ff1010"/>
<rect x="437.80" y="1252.00" width="19.20" height="1.70" fill="#e08080"/>
<rect x="467.00" y="1252.00" width="19.20" height="1.70" fill="#ff20e0"/>
<rect x="496.20" y="1251.40" width="19.20" height="2.30" fill="#b8b8b8" stroke="#808080" stroke-width="0.8"/>
<rect x="525.40" y="1252.00" width="19.20" height="1.70" fill="#d0d0d0"/>
<rect x="554.60" y="1252.00" width="19.20" height="1.70" fill="#b0b0b0"/>
<rect x="583.80" y="1252.00" width="19.20" height="1.70" fill="#a0a0a0"/>
<circle cx="330.60" cy="1237.90" r="1.9" fill="#333" stroke="#111" stroke-width="1.0"/>
<circle cx="359.80" cy="1251.50" r="1.9" fill="#777" stroke="#111" stroke-width="1.0"/>
<circle cx="389.00" cy="1251.50" r="1.9" fill="#777" stroke="#111" stroke-width="1.0"/>
<circle cx="418.20" cy="1251.50" r="1.9" fill="#777" stroke="#111" stroke-width="1.0"/>
<circle cx="447.40" cy="1251.50" r="1.9" fill="#777" stroke="#111" stroke-width="1.0"/>
<circle cx="476.60" cy="1251.50" r="1.9" fill="#777" stroke="#111" stroke-width="1.0"/>
<circle cx="505.80" cy="1251.80" r="1.9" fill="#777" stroke="#111" stroke-width="1.0"/>
<circle cx="535.00" cy="1252.60" r="1.9" fill="#777" stroke="#111" stroke-width="1.0"/>
<circle cx="564.20" cy="1252.60" r="1.9" fill="#777" stroke="#111" stroke-width="1.0"/>
<circle cx="593.40" cy="1252.60" r="1.9" fill="#777" stroke="#111" stroke-width="1.0"/>
<line x1="117.00" y1="1263.40" x2="281.80" y2="1263.40" stroke="#111" stroke-width="2.0"/>
<line x1="321.00" y1="1263.30" x2="603.90" y2="1263.30" stroke="#111" stroke-width="2.0"/>
<text x="161.12" y="1281.20" font-size="15.5" fill="#000" font-weight="normal" stroke="#000" stroke-width="0.15" textLength="51.19" lengthAdjust="spacingAndGlyphs">+ACE2</text>
<text x="437.30" y="1281.20" font-size="15.5" fill="#000" font-weight="normal" stroke="#000" stroke-width="0.15" textLength="49.69" lengthAdjust="spacingAndGlyphs">–ACE2</text>
<rect x="61.60" y="1298.10" width="6.80" height="6.60" fill="#0433ff"/>
<text x="71.10" y="1304.80" font-size="13.3" fill="#000" font-weight="normal" stroke="#000" stroke-width="0.15" textLength="55.70" lengthAdjust="spacingAndGlyphs">Delta WT</text>
<rect x="171.70" y="1298.10" width="6.50" height="6.60" fill="#bf9000"/>
<text x="180.77" y="1304.80" font-size="13.3" fill="#000" font-weight="normal" stroke="#000" stroke-width="0.15" textLength="71.01" lengthAdjust="spacingAndGlyphs">Delta Mut-1</text>
<rect x="282.05" y="1298.55" width="5.70" height="5.70" fill="#00a545" stroke="#1f7a3a" stroke-width="0.9"/>
<text x="290.66" y="1304.80" font-size="13.3" fill="#000" font-weight="normal" stroke="#000" stroke-width="0.15" textLength="71.84" lengthAdjust="spacingAndGlyphs">Delta Mut-2</text>
<rect x="391.30" y="1298.10" width="6.60" height="6.60" fill="#ff0000"/>
<text x="400.65" y="1304.80" font-size="13.3" fill="#000" font-weight="normal" stroke="#000" stroke-width="0.15" textLength="72.25" lengthAdjust="spacingAndGlyphs">Delta Mut-8</text>
<rect x="501.30" y="1298.10" width="6.70" height="6.60" fill="#e08080"/>
<text x="510.56" y="1304.80" font-size="13.3" fill="#000" font-weight="normal" stroke="#000" stroke-width="0.15" textLength="78.63" lengthAdjust="spacingAndGlyphs">Delta Mut-11</text>
<rect x="61.60" y="1321.60" width="6.80" height="6.60" fill="#ff0080"/>
<text x="71.06" y="1328.20" font-size="13.3" fill="#000" font-weight="normal" stroke="#000" stroke-width="0.15" textLength="79.25" lengthAdjust="spacingAndGlyphs">Delta Mut-14</text>
<rect x="171.85" y="1322.05" width="6.70" height="5.70" fill="#d9d9d9" stroke="#a0a0a0" stroke-width="0.9"/>
<text x="180.77" y="1328.20" font-size="13.3" fill="#000" font-weight="normal" stroke="#000" stroke-width="0.15" textLength="89.13" lengthAdjust="spacingAndGlyphs">No S/no ACE2</text>
<rect x="281.30" y="1321.60" width="6.90" height="6.60" fill="#c8c8c8"/>
<text x="294.77" y="1328.20" font-size="13.3" fill="#000" font-weight="normal" stroke="#000" stroke-width="0.15" textLength="30.56" lengthAdjust="spacingAndGlyphs">No S</text>
<rect x="391.30" y="1321.60" width="6.90" height="6.60" fill="#a6a6a6"/>
<rect x="501.30" y="1321.60" width="6.70" height="6.60" fill="#7f7f7f"/>
<text x="400.86" y="1330.60" font-size="13.3" fill="#000" font-weight="normal" stroke="#000" stroke-width="0.15" textLength="17.72" lengthAdjust="spacingAndGlyphs">No</text>
<text x="422.40" y="1331.00" font-size="15.5" font-family="Liberation Serif"  fill="#000" stroke="#000" stroke-width="0.15" textLength="10.10" lengthAdjust="spacingAndGlyphs">ω</text>
<text x="436.11" y="1330.60" font-size="13.3" fill="#000" font-weight="normal" stroke="#000" stroke-width="0.15" textLength="52.58" lengthAdjust="spacingAndGlyphs">fragment</text>
<text x="510.86" y="1330.60" font-size="13.3" fill="#000" font-weight="normal" stroke="#000" stroke-width="0.15" textLength="17.72" lengthAdjust="spacingAndGlyphs">No</text>
<text x="532.40" y="1331.00" font-size="15.5" font-family="Liberation Serif" font-style="italic" fill="#000" stroke="#000" stroke-width="0.15" textLength="8.60" lengthAdjust="spacingAndGlyphs">α</text>
<text x="545.41" y="1330.60" font-size="13.3" fill="#000" font-weight="normal" stroke="#000" stroke-width="0.15" textLength="53.09" lengthAdjust="spacingAndGlyphs">fragment</text>
</svg>
</body></html>
